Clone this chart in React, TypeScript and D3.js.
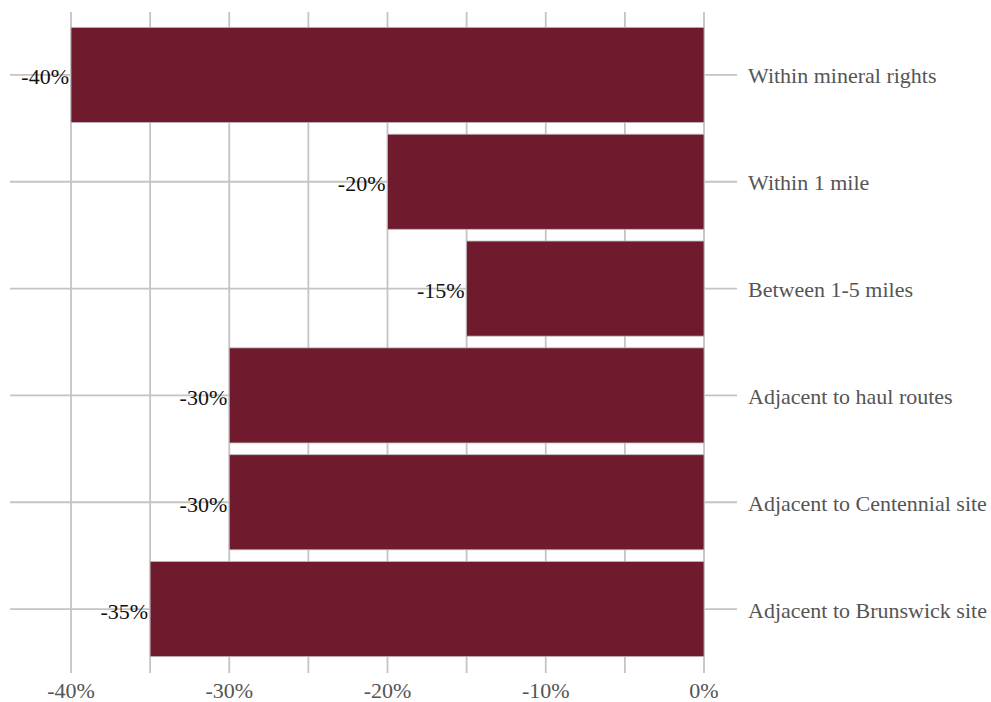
import React from "react";
import * as d3 from "d3";

// Change in property value by proximity to the mining operations
const categories: string[] = [
  "Within mineral rights",
  "Within 1 mile",
  "Between 1-5 miles",
  "Adjacent to haul routes",
  "Adjacent to Centennial site",
  "Adjacent to Brunswick site",
];
const values: number[] = [-0.4, -0.2, -0.15, -0.3, -0.3, -0.35];
const gridTicks: number[] = [-0.4, -0.35, -0.3, -0.25, -0.2, -0.15, -0.1, -0.05, 0];
const labelTicks: number[] = [-0.4, -0.3, -0.2, -0.1, 0];

const W = 991;
const H = 702;
const FONT = "'Liberation Serif', 'Times New Roman', serif";
const BAR = "#701A2E";
const GRID = "#c4c4c4";

// percent format with a plain hyphen for the minus sign
const locale = d3.formatLocale({
  decimal: ".",
  thousands: ",",
  grouping: [3],
  currency: ["$", ""],
  minus: "-",
});
const pct = locale.format(".0%");

export default function App() {
  const x = d3.scaleLinear().domain([-0.4, 0]).range([71, 704]);
  const y = d3
    .scaleBand<string>()
    .domain(categories)
    .range([21.5, 662.5])
    .paddingInner(0.11)
    .paddingOuter(0.055);
  const half = y.bandwidth() / 2;

  return (
    <svg
      width={W}
      height={H}
      style={{ position: "absolute", left: 0, top: 0, background: "#fff" }}
      fontFamily={FONT}
    >
      {/* vertical grid */}
      {gridTicks.map((t) => (
        <line
          key={"v" + t}
          x1={x(t)}
          x2={x(t)}
          y1={12}
          y2={673}
          stroke={GRID}
          strokeWidth={1.8}
        />
      ))}
      {/* horizontal category lines */}
      {categories.map((c) => (
        <line
          key={"h" + c}
          x1={10}
          x2={737}
          y1={(y(c) as number) + half}
          y2={(y(c) as number) + half}
          stroke={GRID}
          strokeWidth={1.8}
        />
      ))}
      {/* bars */}
      {categories.map((c, i) => (
        <rect
          key={"b" + c}
          x={x(values[i])}
          y={y(c)}
          width={x(0) - x(values[i])}
          height={y.bandwidth()}
          fill={BAR}
          stroke="#b9b9b9"
          strokeWidth={0.8}
        />
      ))}
      {/* value labels */}
      {categories.map((c, i) => (
        <text
          key={"l" + c}
          x={x(values[i]) - 2}
          y={(y(c) as number) + half + 2}
          textAnchor="end"
          dominantBaseline="central"
          fontSize={22}
          fill="#111"
        >
          {pct(values[i])}
        </text>
      ))}
      {/* category labels */}
      {categories.map((c) => (
        <text
          key={"c" + c}
          x={748}
          y={(y(c) as number) + half + 1}
          dominantBaseline="central"
          fontSize={22}
          fill="#555"
        >
          {c}
        </text>
      ))}
      {/* x axis labels */}
      {labelTicks.map((t) => (
        <text
          key={"x" + t}
          x={x(t)}
          y={698}
          textAnchor="middle"
          fontSize={22}
          fill="#555"
        >
          {pct(t)}
        </text>
      ))}
    </svg>
  );
}
